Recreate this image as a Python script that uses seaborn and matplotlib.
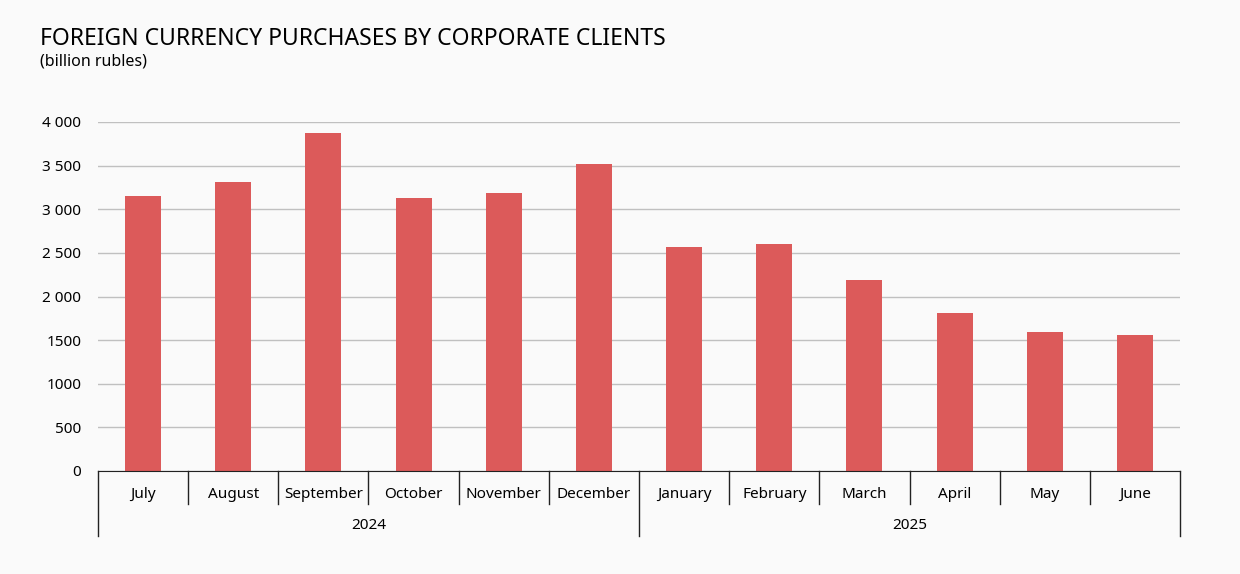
import matplotlib
matplotlib.use("Agg")
import matplotlib.pyplot as plt
import matplotlib.transforms as mtransforms
import seaborn as sns
import pandas as pd

months = ["July", "August", "September", "October", "November", "December",
          "January", "February", "March", "April", "May", "June"]
years = ["2024", "2025"]
year_of_month = ["2024"] * 6 + ["2025"] * 6
values = [3150, 3310, 3870, 3130, 3190, 3520, 2570, 2600, 2190, 1810, 1590, 1560]
yticks = [0, 500, 1000, 1500, 2000, 2500, 3000, 3500, 4000]
ytick_labels = ["0", "500", "1000", "1500", "2 000", "2 500", "3 000", "3 500", "4 000"]

plt.rcParams["font.family"] = "Noto Sans"
bg = "#fafafa"
fig = plt.figure(figsize=(12.4, 5.74), dpi=100, facecolor=bg)
ax = fig.add_axes([98/1240, 1-471/574, (1180-98)/1240, (471-122)/574], facecolor=bg)

df = pd.DataFrame({"month": months, "value": values})
sns.barplot(data=df, x="month", y="value", color="#dc5a5a", width=0.4,
            saturation=1, ax=ax)
ax.set_xlim(-0.5, len(months) - 0.5)
ax.set_ylim(0, 4000)
ax.set_yticks(yticks)
ax.set_yticklabels(ytick_labels, fontsize=11)
ax.yaxis.grid(True, color="#c0c0c0", lw=1)
ax.set_axisbelow(True)
for s in ["top", "right", "left"]:
    ax.spines[s].set_visible(False)
ax.spines["bottom"].set_color("#222222")
ax.tick_params(axis="y", length=0, pad=12)
ax.tick_params(axis="x", length=0)
ax.set_xticklabels([])
ax.set_xlabel("")
ax.set_ylabel("")

tr = mtransforms.blended_transform_factory(ax.transData, ax.transAxes)
# month labels and short separators
for i, m in enumerate(months):
    ax.text(i, -0.066, m, transform=tr, ha="center", va="center", fontsize=11)
for i in range(1, len(months)):
    if i == 6:
        continue
    ax.plot([i - 0.5, i - 0.5], [0, -0.095], transform=tr, color="#222222", lw=1, clip_on=False)
# year groups
for b in [-0.5, 5.5, 11.5]:
    ax.plot([b, b], [0, -0.186], transform=tr, color="#222222", lw=1, clip_on=False)
for k, y in enumerate(years):
    idx = [i for i, yy in enumerate(year_of_month) if yy == y]
    ax.text(sum(idx) / len(idx), -0.155, y, transform=tr, ha="center", va="center", fontsize=11)

fig.text(40/1240, 1-39/574, "FOREIGN CURRENCY PURCHASES BY CORPORATE CLIENTS",
         fontsize=16.5, va="center", ha="left")
fig.text(40/1240, 1-62/574, "(billion rubles)", fontsize=11.5, va="center", ha="left")

fig.savefig("out.png", dpi=100, facecolor=bg)
